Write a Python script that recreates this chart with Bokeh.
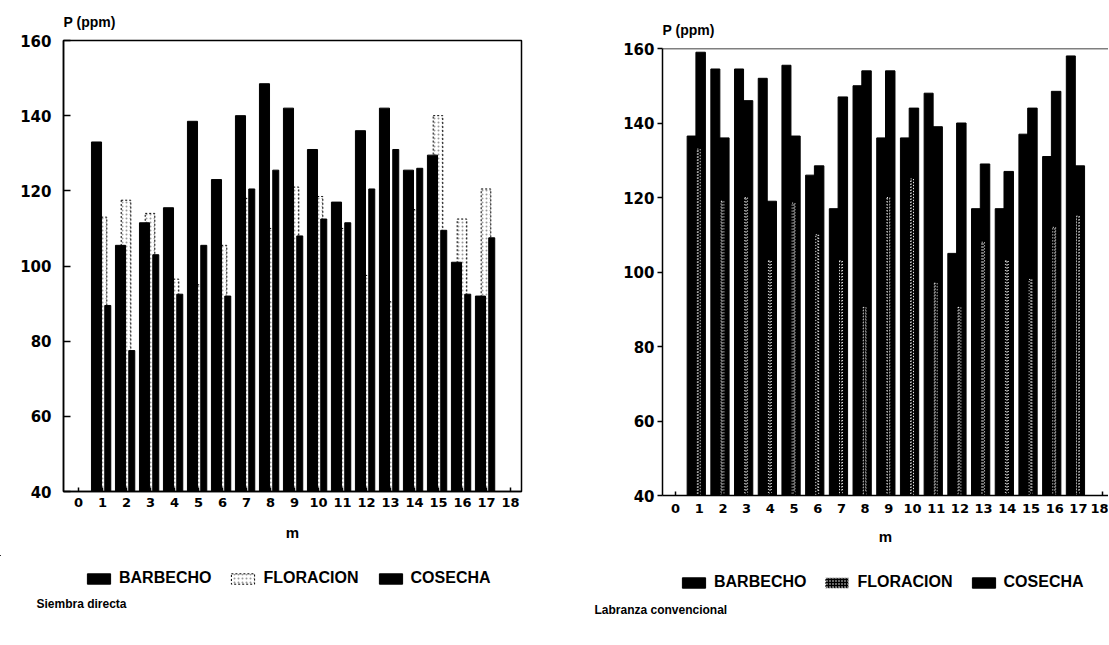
from bokeh.plotting import figure
from bokeh.layouts import row, column
from bokeh.models import (Legend, LegendItem, Label, FixedTicker, Range1d,
                          ColumnDataSource, Span, Spacer)
from bokeh.transform import dodge
from bokeh.embed import file_html
from bokeh.resources import INLINE

# ---------------- data ----------------
m = list(range(1, 18))
x_ticks = list(range(0, 19))
y_ticks = [40, 60, 80, 100, 120, 140, 160]

# Siembra directa
sd_barbecho = [133, 105.5, 111.5, 115.5, 138.5, 123, 140, 148.5, 142, 131, 117, 136, 142, 125.5, 129.5, 101, 92]
sd_floracion = [113, 117.5, 114, 96.5, 95, 105.5, 118, 110, 121, 118.5, 110, 97.5, 90.5, 115, 140, 112.5, 120.5]
sd_cosecha = [89.5, 77.5, 103, 92.5, 105.5, 92, 120.5, 125.5, 108, 112.5, 111.5, 120.5, 131, 126, 109.5, 92.5, 107.5]

# Labranza convencional
lc_barbecho = [136.5, 154.5, 154.5, 152, 155.5, 126, 117, 150, 136, 136, 148, 105, 117, 117, 137, 131, 158]
lc_floracion = [133, 119, 120, 103, 118.5, 110, 103, 90.5, 120, 125, 97, 90.5, 108, 103, 98, 112, 115]
lc_cosecha = [159, 136, 146, 119, 136.5, 128.5, 147, 154, 154, 144, 139, 140, 129, 127, 144, 148.5, 128.5]

series_labels = ["BARBECHO", "FLORACION", "COSECHA"]
captions = ["Siembra directa", "Labranza convencional"]
y_title = "P (ppm)"
x_title = "m"

TXT = "Liberation Sans"
NUM = "DejaVu Sans"

B_STYLE = dict(fill_color="black", line_color="black")
F1_STYLE = dict(fill_color="white", line_color="black", line_width=1, line_dash="2 2",
                hatch_pattern=".", hatch_color="#9a9a9a", hatch_scale=4, hatch_weight=1)
F2_STYLE = dict(fill_color="black", line_color="white", line_width=1, line_dash="1 2",
                hatch_pattern=".", hatch_color="white", hatch_scale=3, hatch_weight=1)
C_STYLE = dict(fill_color="black", line_color="black")


def style_axes(p, tick_in, tick_out, ystand, xstand, lstand, title_standoff):
    p.xgrid.visible = False
    p.ygrid.visible = False
    for ax in (p.xaxis[0], p.yaxis[0]):
        ax.axis_line_color = "black"
        ax.axis_line_width = 1.5
        ax.major_tick_line_color = "black"
        ax.major_tick_line_width = 1.5
        ax.minor_tick_line_color = None
        ax.major_label_text_font = NUM
        ax.major_label_text_font_style = "bold"
        ax.major_label_text_color = "black"
    p.yaxis[0].ticker = FixedTicker(ticks=y_ticks)
    p.yaxis[0].major_tick_in = tick_in
    p.yaxis[0].major_tick_out = tick_out
    p.yaxis[0].major_label_standoff = ystand
    p.yaxis[0].major_label_text_font_size = "15px"
    p.xaxis[0].ticker = FixedTicker(ticks=x_ticks)
    p.xaxis[0].major_tick_in = 4
    p.xaxis[0].major_tick_out = 0
    p.xaxis[0].major_label_standoff = xstand
    p.xaxis[0].major_label_text_font_size = "13px"
    p.xaxis[0].axis_label = x_title
    p.xaxis[0].axis_label_standoff = lstand
    p.xaxis[0].axis_label_text_font = TXT
    p.xaxis[0].axis_label_text_font_style = "bold"
    p.xaxis[0].axis_label_text_font_size = "15px"
    p.xaxis[0].axis_label_text_color = "black"
    p.title.text_font = TXT
    p.title.text_font_style = "bold"
    p.title.text_font_size = "14px"
    p.title.text_color = "black"
    p.title.align = "left"
    p.title.standoff = title_standoff


# ---------------- left: Siembra directa ----------------
src1 = ColumnDataSource(dict(m=m, b=sd_barbecho, f=sd_floracion, c=sd_cosecha))
p1 = figure(frame_width=458, frame_height=451, output_backend="svg", toolbar_location=None,
            x_range=Range1d(-0.625, 18.46), y_range=Range1d(40, 160),
            min_border_left=63, min_border_right=67, min_border_top=40,
            min_border_bottom=64, title=y_title)
p1.outline_line_color = "black"
p1.outline_line_width = 1.5
style_axes(p1, tick_in=7, tick_out=0, ystand=12, xstand=6, lstand=14, title_standoff=21)

p1.vbar(x=dodge("m", -0.02, range=p1.x_range), top="f", bottom=40, width=0.40,
        source=src1, **F1_STYLE)
p1.vbar(x=dodge("m", -0.25, range=p1.x_range), top="b", bottom=40, width=0.42,
        source=src1, **B_STYLE)
p1.vbar(x=dodge("m", 0.22, range=p1.x_range), top="c", bottom=40, width=0.25,
        source=src1, **C_STYLE)

# ---------------- right: Labranza convencional ----------------
src2 = ColumnDataSource(dict(m=m, b=lc_barbecho, f=lc_floracion, c=lc_cosecha))
p2 = figure(frame_width=446, frame_height=447, output_backend="svg", toolbar_location=None,
            x_range=Range1d(-0.55, 18.27), y_range=Range1d(40, 160),
            min_border_left=74, min_border_right=0, min_border_top=40,
            min_border_bottom=60, title=y_title)
p2.outline_line_color = None
style_axes(p2, tick_in=0, tick_out=5, ystand=3, xstand=8, lstand=12, title_standoff=21)
p2.add_layout(Span(location=160, dimension="width", line_color="black", line_width=1.5))

p2.vbar(x=dodge("m", -0.32, range=p2.x_range), top="b", bottom=40, width=0.38,
        source=src2, **B_STYLE)
p2.vbar(x=dodge("m", 0.06, range=p2.x_range), top="c", bottom=40, width=0.40,
        source=src2, **C_STYLE)
p2.vbar(x=dodge("m", -0.02, range=p2.x_range), top="f", bottom=40, width=0.12,
        source=src2, **F2_STYLE)

# ---------------- footer: legends and captions ----------------
FH = 90
foot = figure(width=1109, height=FH, output_backend="svg", toolbar_location=None,
              x_range=Range1d(0, 1109), y_range=Range1d(FH, 0),
              x_axis_type=None, y_axis_type=None, min_border=0)
foot.outline_line_color = None
foot.xgrid.visible = False
foot.ygrid.visible = False


def footer_legend(styles, loc, spacing):
    # legend-only proxy glyphs, kept outside the visible range
    proxy = ColumnDataSource(dict(x=[-999], top=[-999]))
    rends = [foot.vbar(x="x", top="top", bottom=-999, width=1, source=proxy, **st)
             for st in styles]
    items = [LegendItem(label=lab, renderers=[r]) for lab, r in zip(series_labels, rends)]
    leg = Legend(items=items, orientation="horizontal", location=loc,
                 glyph_width=29, glyph_height=13, spacing=spacing, label_standoff=6,
                 label_text_font=TXT, label_text_font_style="bold",
                 label_text_font_size="16px", label_text_color="black",
                 background_fill_alpha=0, border_line_alpha=0, padding=0, margin=0)
    foot.add_layout(leg, "center")


footer_legend([B_STYLE, F1_STYLE, C_STYLE], (84, 58), 17)
footer_legend([B_STYLE, F2_STYLE, C_STYLE], (679, 54), 16)

for cx, cy, txt in [(36, 48, captions[0]), (594, 54, captions[1])]:
    foot.add_layout(Label(x=cx, y=cy, text=txt, text_font=TXT, text_font_style="bold",
                          text_font_size="12px", text_baseline="middle", text_color="black"))

layout = column(row(p1, column(Spacer(height=8), p2)), foot)
open("out.html", "w").write(file_html(layout, INLINE))
